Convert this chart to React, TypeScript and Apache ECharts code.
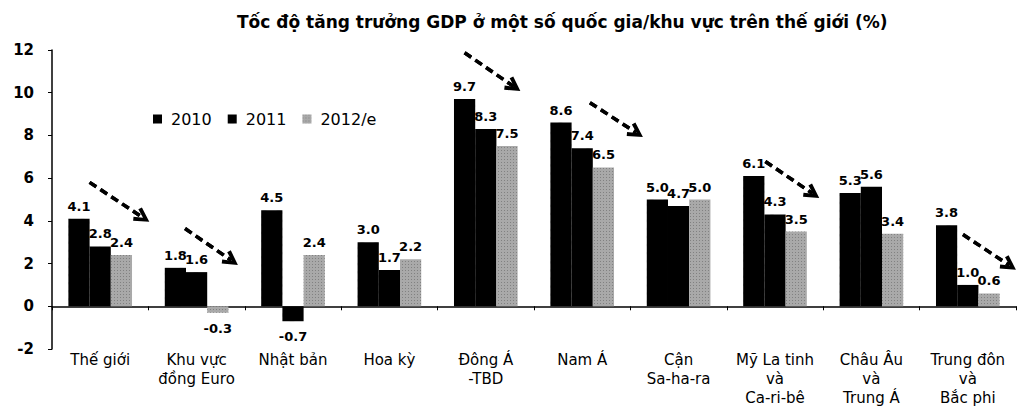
import React, { useEffect, useRef } from "react";
import * as echarts from "echarts";

const categories = [
  "Thế giới",
  "Khu vực\nđồng Euro",
  "Nhật bản",
  "Hoa kỳ",
  "Đông Á\n-TBD",
  "Nam Á",
  "Cận\nSa-ha-ra",
  "Mỹ La tinh\nvà\nCa-ri-bê",
  "Châu Âu\nvà\nTrung Á",
  "Trung đôn\nvà\nBắc phi",
];
const seriesNames = ["2010", "2011", "2012/e"];
const v2010 = [4.1, 1.8, 4.5, 3.0, 9.7, 8.6, 5.0, 6.1, 5.3, 3.8];
const v2011 = [2.8, 1.6, -0.7, 1.7, 8.3, 7.4, 4.7, 4.3, 5.6, 1.0];
const v2012 = [2.4, -0.3, 2.4, 2.2, 7.5, 6.5, 5.0, 3.5, 3.4, 0.6];
const yTicks = [-2, 0, 2, 4, 6, 8, 10, 12];
// trend arrows: [x start, y start, x end, y end] on a 0..10 category scale
const arrows = [
  [0.39, 5.8, 0.94, 4.16],
  [1.38, 3.64, 1.86, 2.15],
  [4.28, 11.87, 4.79, 10.29],
  [5.58, 9.53, 6.06, 8.13],
  [7.4, 6.78, 7.89, 5.28],
  [9.45, 3.36, 9.93, 1.92],
];

const SANS = "'Liberation Sans', Arial, sans-serif";
const WIDE = "'DejaVu Sans', 'Liberation Sans', sans-serif";
const CHEVRON = "path://M10,0 L20,15 L15.5,17 L10,8 L4.5,17 L0,15 Z";

export default function App() {
  const ref = useRef<HTMLDivElement>(null);
  useEffect(() => {
    if (!ref.current) return;
    const chart = echarts.init(ref.current, null, { renderer: "svg" });
    const mk = (vals: number[]) =>
      vals.map((v) =>
        v < 0 ? { value: v, label: { position: "bottom", distance: 9 } } : { value: v }
      );
    const colors = ["#000000", "#000000", "#a9a9a9"];
    const barSeries = [v2010, v2011, v2012].map((vals, i) => ({
      name: seriesNames[i],
      type: "bar",
      xAxisIndex: 0,
      yAxisIndex: 0,
      data: mk(vals),
      barWidth: "22%",
      barGap: "0%",
      itemStyle: {
        color: colors[i],
        decal:
          i === 2
            ? {
                symbol: "rect",
                symbolSize: 1,
                color: "rgba(90,90,90,0.5)",
                dashArrayX: [1, 2],
                dashArrayY: [1, 2],
                rotation: 0,
              }
            : "none",
      },
      label: {
        show: true,
        position: "top",
        distance: 6,
        formatter: (p: any) => Number(p.value).toFixed(1),
        fontFamily: WIDE,
        fontWeight: "bold",
        fontSize: 13,
        color: "#000",
      },
    }));
    chart.setOption({
      animation: false,
      aria: { enabled: true, decal: { show: true } },
      textStyle: { fontFamily: SANS },
      title: {
        text: "Tốc độ tăng trưởng GDP ở một số quốc gia/khu vực trên thế giới (%)",
        left: 232,
        top: 8,
        textStyle: { fontFamily: WIDE, fontWeight: "bold", fontSize: 17, color: "#000" },
      },
      legend: {
        data: seriesNames,
        left: 148,
        top: 106,
        itemWidth: 9,
        itemHeight: 9,
        itemGap: 16,
        icon: "rect",
        textStyle: { fontFamily: WIDE, fontSize: 16, color: "#000", padding: [0, 0, 0, 4] },
      },
      grid: {
        left: 52,
        right: 12,
        top: 50,
        bottom: 67,
        containLabel: false,
        outerBoundsMode: "none",
      },
      xAxis: [
        {
          type: "category",
          data: categories,
          axisLine: { onZero: true, lineStyle: { color: "#000", width: 1.5 } },
          axisTick: { show: true, inside: false, length: 4, lineStyle: { color: "#000" } },
          axisLabel: {
            margin: 1,
            interval: 0,
            fontFamily: WIDE,
            fontSize: 15,
            lineHeight: 19,
            color: "#000",
          },
        },
        { type: "value", min: 0, max: 10, show: false, position: "top" },
      ],
      yAxis: {
        type: "value",
        min: -2,
        max: 12,
        interval: 2,
        axisLine: { show: true, lineStyle: { color: "#000", width: 1.5 } },
        axisTick: { show: true, length: 4, lineStyle: { color: "#000" } },
        splitLine: { show: false },
        axisLabel: {
          margin: 18,
          fontFamily: WIDE,
          fontWeight: "bold",
          fontSize: 15,
          color: "#000",
          formatter: (v: number) => (yTicks.includes(v) ? String(v) : ""),
        },
      },
      series: [
        ...barSeries,
        {
          type: "lines",
          coordinateSystem: "cartesian2d",
          xAxisIndex: 1,
          yAxisIndex: 0,
          symbol: ["none", CHEVRON],
          symbolSize: [18, 16],
          silent: true,
          lineStyle: { color: "#000", width: 3.5, type: [8, 5], opacity: 1 },
          data: arrows.map((a) => ({ coords: [[a[0], a[1]], [a[2], a[3]]] })),
        },
      ],
    });
    return () => chart.dispose();
  }, []);
  return <div ref={ref} style={{ width: 1028, height: 416, marginLeft: -8, marginTop: -8 }} />;
}
